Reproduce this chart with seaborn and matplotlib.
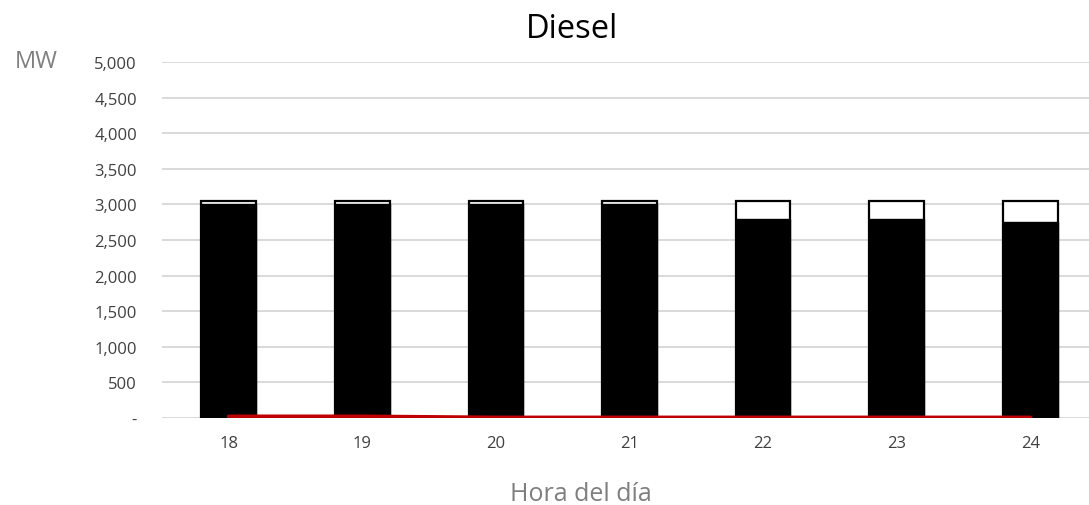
import matplotlib
matplotlib.use("Agg")
import matplotlib.pyplot as plt
import matplotlib.ticker as mticker
import seaborn as sns
import pandas as pd
import numpy as np

# Hourly diesel figures (MW)
horas = ["18", "19", "20", "21", "22", "23", "24"]
capacidad = [3050, 3050, 3050, 3050, 3050, 3050, 3050]
generacion = [3000, 3000, 3000, 3000, 2800, 2800, 2750]
demanda_linea = [20, 20, 5, 5, 5, 5, 5]
y_ticks = [0, 500, 1000, 1500, 2000, 2500, 3000, 3500, 4000, 4500, 5000]

df = pd.DataFrame({"hora": horas, "capacidad": capacidad,
                   "generacion": generacion, "linea": demanda_linea})
df["pos"] = np.arange(len(horas))

sns.set_theme(style="white")
plt.rcParams["font.family"] = ["Open Sans", "DejaVu Sans"]

fig = plt.figure(figsize=(10.89, 5.06), dpi=100)
ax = fig.add_axes([162 / 1089, 87 / 506, (1089 - 162) / 1089, (419 - 63) / 506])

for y in y_ticks:
    ax.axhline(y, color="#d9d9d9", lw=1.4, zorder=0)

sns.barplot(data=df, x="hora", y="capacidad", color="white", edgecolor="black",
            linewidth=1.6, width=0.41, saturation=1, ax=ax, zorder=2)
sns.barplot(data=df, x="hora", y="generacion", color="black", edgecolor="black",
            linewidth=1.0, width=0.41, saturation=1, ax=ax, zorder=3)
sns.lineplot(data=df, x="pos", y="linea", color="#c00000", lw=3.0, ax=ax, zorder=4)

ax.set_xlim(-0.5, 6.44)
ax.set_ylim(0, 5000)
ax.set_yticks(y_ticks)
ax.yaxis.set_major_formatter(mticker.FuncFormatter(
    lambda v, p: "-" if v == 0 else f"{int(v):,}"))
ax.tick_params(axis="both", length=0, labelsize=12, colors="#404040")
ax.tick_params(axis="y", pad=18)
ax.tick_params(axis="x", pad=12)
for s in ax.spines.values():
    s.set_visible(False)
ax.set_xlabel("")
ax.set_ylabel("")

fig.text(572 / 1089, 1 - 29 / 506, "Diesel", ha="center", va="center",
         fontsize=23.5, color="black")
fig.text(36 / 1089, 1 - 62 / 506, "MW", ha="center", va="center",
         fontsize=17, color="#7f7f7f")
fig.text(581 / 1089, 1 - 495 / 506, "Hora del día", ha="center", va="center",
         fontsize=18, color="#7f7f7f")

fig.savefig("out.png", dpi=100)
